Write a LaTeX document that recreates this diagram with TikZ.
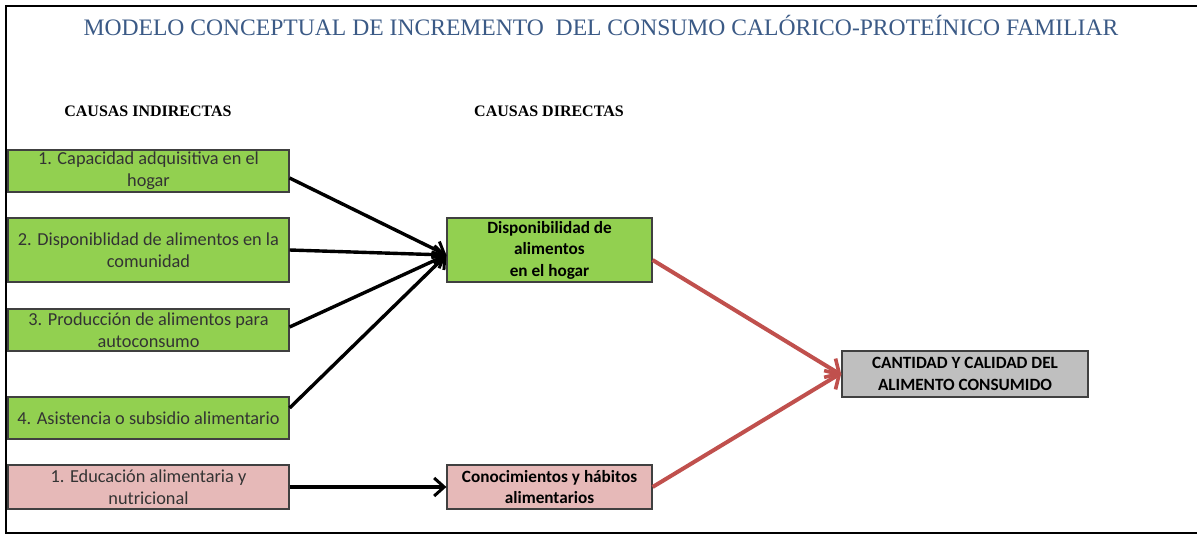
\documentclass[tikz,border=0pt]{standalone}
\usepackage{fontspec}
\setmainfont{Carlito}
\newfontfamily\titlefont{Liberation Serif}
\usetikzlibrary{arrows.meta}
\definecolor{boxgreen}{HTML}{92D050}
\definecolor{boxpink}{HTML}{E6B9B8}
\definecolor{boxgray}{HTML}{BFBFBF}
\definecolor{arrred}{HTML}{C0504D}
\definecolor{titleblue}{HTML}{3B5A86}
\begin{document}
\begin{tikzpicture}[x=1pt,y=-1pt,
  causebox/.style={draw=black!75,line width=1.2pt,minimum width=281pt,inner sep=1pt,align=center,font=\fontsize{18.3}{22}\selectfont,text=black!80},
  directbox/.style={draw=black!75,line width=1.2pt,minimum width=205pt,inner sep=1pt,align=center,font=\bfseries\fontsize{17.2}{21.5}\selectfont},
  blackarr/.style={line width=3.4pt,-{Straight Barb[length=10pt,width=18pt,line width=3pt]}},
  redarr/.style={arrred,line width=4pt,-{Straight Barb[length=11pt,width=22pt,line width=3.6pt]}},
  header/.style={font=\titlefont\bfseries\fontsize{16}{18}\selectfont}]
\useasboundingbox (0,0) rectangle (1197,536);
\fill[white] (0,0) rectangle (1197,536);
\draw[line width=2pt] (1197,6) -- (6,6) -- (6,533) -- (1197,533);
\node[font=\titlefont\fontsize{23.6}{26}\selectfont,text=titleblue] (title) at (601,25) {MODELO CONCEPTUAL DE INCREMENTO\ \ DEL CONSUMO CALÓRICO-PROTEÍNICO FAMILIAR};
\node[header] (hind) at (148,111) {CAUSAS INDIRECTAS};
\node[header] (hdir) at (549,111) {CAUSAS DIRECTAS};
\node[causebox,fill=boxgreen,minimum height=42pt] (b1) at (148.5,171) {1. Capacidad adquisitiva en el\\hogar};
\node[causebox,fill=boxgreen,minimum height=64pt] (b2) at (148.5,250) {2. Disponiblidad de alimentos en la\\comunidad};
\node[causebox,fill=boxgreen,minimum height=42pt] (b3) at (148.5,330) {3. Producción de alimentos para\\autoconsumo};
\node[causebox,fill=boxgreen,minimum height=42pt] (b4) at (148.5,418) {4. Asistencia o subsidio alimentario};
\node[causebox,fill=boxpink,minimum height=44pt] (b5) at (148.5,487) {1. Educación alimentaria y\\nutricional};
\node[directbox,fill=boxgreen,minimum height=64pt] (d1) at (549.5,250) {Disponibilidad de\\alimentos\\en el hogar};
\node[directbox,fill=boxpink,minimum height=44pt] (d2) at (549.5,487) {Conocimientos y hábitos\\alimentarios};
\node[directbox,fill=boxgray,minimum width=246pt,minimum height=46pt,font=\bfseries\fontsize{17.2}{21.5}\selectfont] (c) at (965,374) {CANTIDAD Y CALIDAD DEL\\ALIMENTO CONSUMIDO};
\coordinate (tip) at ([yshift=-5pt]d1.west);
\draw[blackarr] ([yshift=-7pt]b1.east) -- (tip);
\draw[blackarr] (b2.east) -- (tip);
\draw[blackarr] ([yshift=3pt]b3.east) -- (tip);
\draw[blackarr] ([yshift=10pt]b4.east) -- (tip);
\draw[blackarr] (b5.east) -- (d2.west);
\draw[redarr] ([yshift=-10pt]d1.east) -- ([yshift=-1pt]c.west);
\draw[redarr] (d2.east) -- ([yshift=1pt]c.west);
\end{tikzpicture}
\end{document}
